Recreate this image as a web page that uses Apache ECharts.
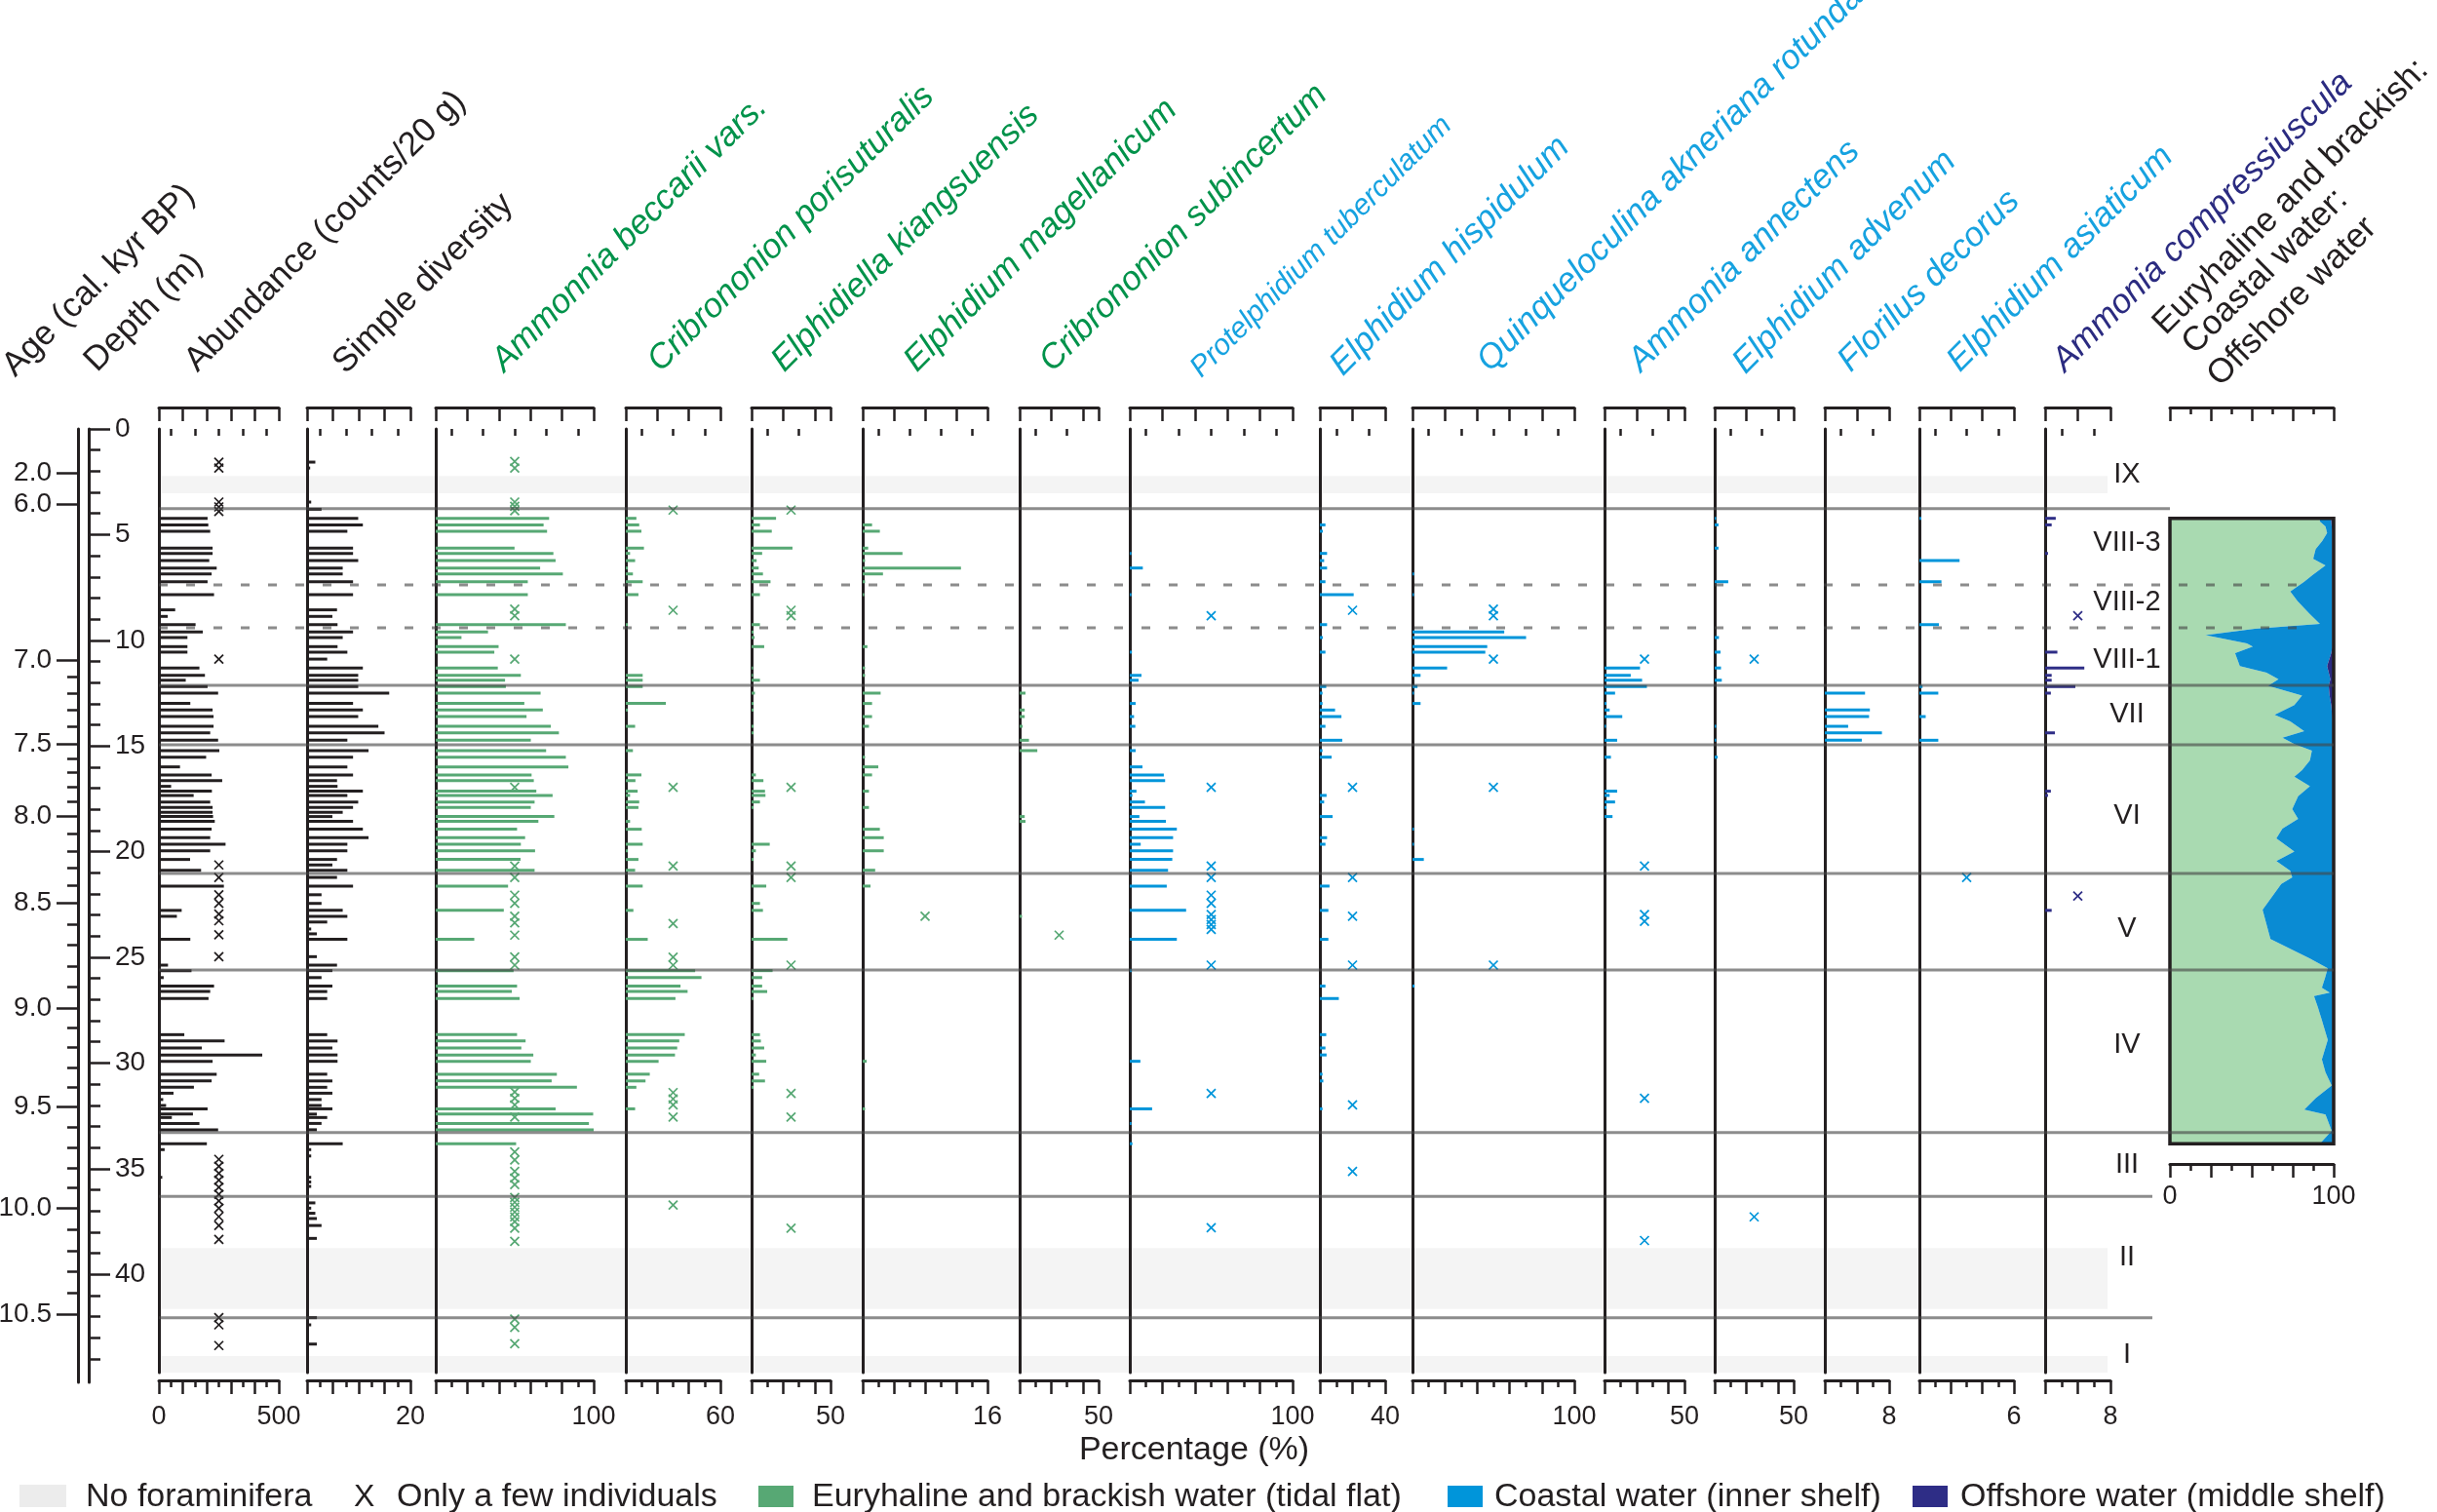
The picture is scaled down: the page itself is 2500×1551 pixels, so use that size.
<!DOCTYPE html>
<html><head><meta charset="utf-8">
<script src="https://cdn.jsdelivr.net/npm/echarts@6/dist/echarts.min.js"></script>
<style>html,body{margin:0;padding:0;background:#fff}#c{width:2500px;height:1551px}</style>
</head><body><div id="c"></div>
<script>
// ---------------- DATA (depth in m) ----------------
const abundance = [[4.23,203],[4.54,206],[4.84,214],[5.64,224],[5.89,224],[6.23,210],[6.58,241],[6.86,220],[7.23,203],[7.84,230],[8.56,68],[8.87,37],[9.26,153],[9.61,183],[9.87,119],[10.30,119],[10.56,119],[11.31,169],[11.66,192],[11.89,112],[12.19,203],[12.50,247],[12.99,131],[13.30,224],[13.61,228],[14.07,228],[14.38,214],[14.73,247],[15.22,252],[15.53,197],[15.99,88],[16.37,220],[16.64,264],[16.91,51],[17.14,221],[17.34,145],[17.65,214],[17.91,224],[18.14,224],[18.34,226],[18.57,233],[18.94,220],[19.34,214],[19.65,278],[19.96,214],[20.37,130],[20.88,176],[21.63,271],[22.78,95],[23.06,75],[24.15,131],[25.37,38],[25.63,136],[25.96,20],[26.36,230],[26.62,214],[26.95,207],[28.66,106],[28.96,274],[29.29,179],[29.62,431],[29.92,224],[30.53,241],[30.85,220],[31.15,146],[31.43,61],[31.73,18],[32.01,30],[32.17,203],[32.42,142],[32.58,54],[32.86,169],[33.16,247],[33.82,200],[34.10,24],[35.41,14]];
const abundanceFew = [1.57,1.85,3.46,3.69,3.9,10.89,20.63,21.22,22.04,22.45,22.95,23.27,23.93,24.97,34.56,34.89,35.22,35.55,35.88,36.21,36.53,36.87,37.27,37.69,38.35,42.05,42.39,43.37];
const diversity = [[1.57,1.6],[1.85,0.6],[3.46,0.8],[3.8,2.8],[4.23,9.9],[4.54,10.8],[4.84,7.8],[5.64,8.9],[5.89,8.9],[6.23,9.9],[6.58,6.9],[6.86,6.9],[7.23,8.9],[7.84,8.9],[8.56,5.8],[8.87,4.9],[9.26,5.9],[9.61,8.9],[9.87,6.9],[10.30,5.9],[10.56,7.8],[10.89,3.9],[11.31,10.8],[11.66,9.9],[11.89,9.9],[12.19,9.9],[12.50,15.9],[12.99,8.9],[13.30,10.8],[13.61,9.9],[14.07,13.8],[14.38,15.0],[14.73,7.8],[15.22,11.9],[15.53,8.9],[15.99,7.8],[16.37,8.9],[16.64,5.8],[16.91,5.9],[17.14,10.8],[17.34,7.8],[17.65,9.9],[17.91,8.9],[18.14,6.9],[18.34,4.9],[18.57,8.9],[18.94,10.8],[19.34,11.9],[19.65,7.8],[19.96,7.8],[20.37,5.8],[20.63,4.9],[20.88,7.8],[21.22,5.8],[21.63,8.9],[22.04,2.8],[22.45,2.8],[22.78,6.9],[23.06,7.8],[23.33,3.9],[23.66,0.8],[23.89,1.9],[24.15,7.8],[24.97,1.9],[25.37,5.8],[25.63,4.9],[25.96,2.8],[26.36,4.9],[26.62,3.9],[26.95,3.9],[28.66,3.9],[28.96,5.9],[29.29,4.9],[29.62,5.9],[29.92,5.9],[30.53,3.9],[30.85,4.9],[31.15,3.9],[31.43,4.9],[31.73,2.8],[32.01,2.8],[32.17,4.9],[32.42,1.9],[32.58,3.9],[32.86,2.8],[33.16,1.9],[33.82,6.9],[34.10,0.8],[34.40,0.8],[35.41,0.8],[35.63,0.8],[35.84,0.8],[36.62,1.6],[36.87,0.8],[37.11,1.6],[37.36,1.9],[37.69,2.8],[38.30,1.9],[42.05,1.9],[42.39,0.8],[43.30,1.9]];
const diversityFew = [];
const ammoniaBeccarii = [[4.23,71.8],[4.54,68.3],[4.84,70.5],[5.64,49.9],[5.89,74.5],[6.23,75.9],[6.58,66.1],[6.86,80.5],[7.23,58.3],[7.84,58.3],[9.26,82.4],[9.61,33.1],[9.87,16.3],[10.30,39.8],[10.56,37.1],[11.31,39.3],[11.66,53.9],[11.89,43.9],[12.19,44.4],[12.50,66.4],[12.99,56.1],[13.30,67.8],[13.61,57.5],[14.07,72.9],[14.38,78.0],[14.73,60.2],[15.22,69.9],[15.53,82.4],[15.99,84.0],[16.37,60.7],[16.64,62.1],[17.14,63.7],[17.34,74.0],[17.65,62.6],[17.91,60.2],[18.34,75.1],[18.57,65.0],[18.94,51.5],[19.34,56.6],[19.65,53.9],[19.96,62.9],[20.37,53.7],[20.88,62.6],[21.63,45.8],[22.78,43.1],[24.15,24.4],[25.63,49.3],[26.36,51.5],[26.62,48.2],[26.95,53.1],[28.66,51.5],[28.96,56.9],[29.29,54.2],[29.62,61.8],[29.92,60.2],[30.53,76.7],[30.85,73.4],[31.15,89.4],[32.17,75.9],[32.42,99.7],[32.86,97.0],[33.16,100],[33.82,50.9]];
const ammoniaBeccariiFew = [1.54,1.85,3.46,3.66,3.87,8.53,8.84,10.89,16.96,20.68,21.22,22.06,22.45,23.06,23.37,23.95,24.98,25.37,31.37,31.67,31.98,32.56,34.21,34.59,35.13,35.44,35.75,36.36,36.59,36.82,37.05,37.28,37.51,37.82,38.44,42.12,42.51,43.28];
const cribPorisuturalis = [[4.23,6.7],[4.54,8.5],[4.84,9.9],[5.64,11.5],[5.89,2.7],[6.23,5.9],[6.58,1.3],[6.86,4.5],[7.23,10.7],[7.84,8.0],[9.26,1.3],[11.66,10.7],[11.89,10.7],[12.19,10.7],[12.99,25.4],[13.30,1.3],[14.07,5.9],[15.22,4.5],[16.37,9.9],[16.64,6.1],[17.14,7.5],[17.34,2.7],[17.65,8.5],[17.91,8.0],[18.57,2.7],[18.94,10.1],[19.65,10.7],[19.96,1.3],[20.37,8.0],[20.88,5.9],[21.63,10.7],[22.78,4.8],[24.15,13.9],[25.63,44.0],[25.96,48.0],[26.36,34.7],[26.62,39.2],[26.95,31.5],[28.66,37.4],[28.96,33.9],[29.29,32.6],[29.62,31.2],[29.92,20.8],[30.53,15.2],[30.85,12.5],[31.15,6.7],[32.17,5.9]];
const cribPorisuturalisFew = [3.84,8.58,16.96,20.68,23.4,24.99,25.37,31.4,31.7,31.98,32.56,36.72];
const elphidiellaKiangsuensis = [[4.23,15.5],[4.54,5.3],[4.84,12.8],[5.64,25.9],[5.89,6.7],[6.23,3.2],[6.58,4.5],[6.86,7.2],[7.23,12.0],[7.84,5.3],[9.26,5.3],[9.61,1.3],[9.87,1.9],[10.30,8.0],[11.31,0.8],[11.66,0.8],[11.89,5.3],[12.50,2.1],[12.99,1.3],[13.30,1.3],[14.07,1.3],[14.38,1.3],[16.37,2.7],[16.64,7.5],[17.14,8.5],[17.34,8.8],[17.65,5.3],[17.91,1.3],[19.65,11.5],[19.96,2.7],[20.37,1.3],[21.63,9.3],[22.45,5.3],[22.78,7.2],[24.15,22.7],[25.63,13.3],[25.96,6.7],[26.36,6.7],[26.62,9.9],[26.95,1.3],[28.66,5.3],[28.96,5.9],[29.29,8.0],[29.62,2.7],[29.92,9.3],[30.53,4.8],[30.85,8.5],[31.15,1.3]];
const elphidiellaKiangsuensisFew = [3.84,8.58,8.84,16.96,20.68,21.22,25.37,31.44,32.56,37.82];
const elphidiumMagellanicum = [[4.54,1.2],[4.84,2.2],[5.64,0.7],[5.89,5.1],[6.23,0.3],[6.58,12.6],[6.86,2.6],[7.23,0.3],[7.84,0.2],[10.30,0.6],[11.31,0.3],[11.66,0.3],[12.50,2.3],[12.99,1.2],[13.61,1.2],[14.07,0.8],[15.53,0.3],[15.99,2.0],[16.37,1.2],[17.14,0.8],[17.91,0.8],[18.94,2.2],[19.34,2.7],[19.96,2.7],[20.88,1.6],[21.63,1.0],[29.92,0.5],[32.17,0.3]];
const elphidiumMagellanicumFew = [23.06];
const cribSubincertum = [[12.50,3.7],[13.30,3.2],[13.61,3.2],[14.07,1.9],[14.73,5.9],[15.22,11.2],[18.34,3.2],[18.57,3.7],[23.06,1.5]];
const cribSubincertumFew = [23.95];
const protelphidiumTuberculatum = [[5.89,1.0],[6.58,8.0],[7.84,1.0],[10.56,1.3],[11.66,7.2],[11.89,5.4],[12.99,3.6],[13.61,2.6],[14.07,3.4],[15.22,3.6],[15.99,7.8],[16.37,20.9],[16.64,21.7],[17.14,4.1],[17.34,1.6],[17.65,9.3],[17.91,21.7],[18.34,5.9],[18.57,22.2],[18.94,28.9],[19.34,26.6],[19.65,6.7],[19.96,26.6],[20.37,26.1],[20.88,23.5],[21.63,22.7],[22.78,34.6],[24.15,28.9],[25.63,1.3],[29.92,6.5],[32.17,13.7],[32.86,1.0],[33.82,1.6]];
const protelphidiumTuberculatumFew = [8.84,16.96,20.68,21.22,22.06,22.45,22.98,23.22,23.45,23.68,25.37,31.44,37.79];
const elphidiumHispidulum = [[4.54,3.4],[4.84,1.8],[5.89,4.4],[6.23,2.6],[6.58,4.4],[7.23,3.4],[7.84,20.7],[9.26,4.4],[9.87,1.8],[10.56,3.4],[12.19,3.9],[12.50,1.6],[12.99,1.6],[13.30,9.3],[13.61,13.2],[14.07,3.4],[14.73,13.7],[15.22,1.6],[15.53,7.2],[17.34,4.1],[17.65,2.6],[18.34,7.8],[19.34,4.4],[19.65,3.4],[21.63,5.9],[22.78,5.2],[24.15,5.2],[26.36,3.4],[26.95,11.6],[28.66,3.9],[29.29,3.4],[29.62,4.1],[30.53,1.6],[30.85,2.1],[32.17,1.6]];
const elphidiumHispidulumFew = [8.58,16.96,21.22,23.06,25.37,31.98,35.13];
const quinqueloculinaAkneriana = [[6.86,1.0],[7.84,0.8],[9.61,56.7],[9.87,70.2],[10.30,46.2],[10.56,45.0],[11.31,21.4],[11.66,5.0],[12.19,3.1],[12.50,0.8],[12.99,5.0],[18.94,0.8],[19.65,0.8],[20.37,7.0],[26.36,1.3]];
const quinqueloculinaAknerianaFew = [8.53,8.84,10.89,16.96,25.37];
const ammoniaAnnectens = [[11.31,22.2],[11.66,16.4],[11.89,23.5],[12.19,26.5],[12.50,6.6],[12.99,1.3],[13.30,3.2],[13.61,11.1],[14.07,0.5],[14.73,7.9],[15.53,4.0],[17.14,7.9],[17.34,3.2],[17.65,6.6],[17.91,1.3],[18.34,5.0]];
const ammoniaAnnectensFew = [10.89,20.68,22.98,23.3,31.67,38.4];
const elphidiumAdvenum = [[4.23,0.5],[4.54,2.4],[5.64,2.4],[7.23,8.6],[9.87,2.7],[10.56,3.7],[11.31,4.0],[11.89,4.5],[14.07,0.5],[14.73,0.5],[15.53,1.9]];
const elphidiumAdvenumFew = [10.89,37.28];
const floriliusDecorus = [[12.50,5.0],[13.30,5.6],[13.61,5.5],[14.07,2.9],[14.38,7.1],[14.73,4.6]];
const floriliusDecorusFew = [];
const elphidiumAsiaticum = [[4.23,0.12],[6.23,2.55],[7.23,1.4],[9.26,1.24],[12.19,0.2],[12.50,1.2],[13.61,0.4],[14.73,1.2]];
const elphidiumAsiaticumFew = [21.22];
const ammoniaCompressiuscula = [[4.23,1.3],[4.54,0.8],[5.89,0.35],[10.56,1.5],[11.31,4.8],[11.66,0.8],[11.89,0.8],[12.19,3.7],[12.50,0.7],[14.38,1.2],[17.14,0.7],[17.34,0.35],[22.78,0.8]];
const ammoniaCompressiusculaFew = [8.84,22.1];

// Cumulative environment groups (%)
const envDepth    = [4.23,4.38,4.61,4.92,5.30,5.69,6.15,6.46,6.92,7.23,7.69,8.15,8.76,9.23,9.46,9.76,10.15,10.30,10.61,11.22,11.53,11.84,12.15,12.61,13.07,13.53,13.84,14.30,14.61,14.91,15.22,15.68,16.14,16.45,16.91,17.38,17.99,18.45,18.91,19.37,19.99,20.45,20.91,21.22,21.53,22.75,24.14,25.06,25.52,25.98,26.44,26.67,26.83,27.37,27.98,28.91,29.83,30.44,31.06,31.67,32.21,32.44,33.21,33.82];
const envEuryhaline = [91.6,91.6,95,96,93,89,87.5,95,87,82,73.5,78,85.5,91.6,51.8,21.7,47,50.6,39.8,42.7,59,66.3,60,80.7,76,63.9,73.5,82,68.7,76,86.7,85.5,80.7,76,85.5,78.3,74.7,78.3,68.7,65,76,65,73.5,74.7,68,56.6,61.4,85.5,96.4,94.7,92.8,97.6,88,90.4,92.8,96.4,92.8,95,98.8,89,82,95,98.8,91.6];
const envCoastal    = [6.9,6.9,3.8,3.2,6.2,10.2,11.7,4.2,12.2,17.2,25.7,21.2,13.7,7.6,47.4,77.5,52.2,48.6,58.7,53.3,38,31.7,37,16.8,22.5,35.1,25.8,17.3,30.6,23.3,12.6,13.8,18.6,23.3,13.8,21.0,24.6,21.0,30.6,34.3,23.3,34.3,25.8,24.6,31.3,42.4,37.6,13.8,2.9,4.6,6.5,1.7,11.3,8.9,6.5,2.9,6.5,4.3,0.5,10.3,17.3,4.3,0.5,7.7];
const envOffshore   = [1.5,1.5,1.2,0.8,0.8,0.8,0.8,0.8,0.8,0.8,0.8,0.8,0.8,0.8,0.8,0.8,0.8,0.8,1.5,4,3,2,3,2.5,1.5,1,0.7,0.7,0.7,0.7,0.7,0.7,0.7,0.7,0.7,0.7,0.7,0.7,0.7,0.7,0.7,0.7,0.7,0.7,0.7,1.0,1.0,0.7,0.7,0.7,0.7,0.7,0.7,0.7,0.7,0.7,0.7,0.7,0.7,0.7,0.7,0.7,0.7,0.7];

// Zones and age model
const zoneBoundaryDepths = [3.77,7.38,9.41,12.13,14.94,21.03,25.60,33.29,36.31,42.05];
const zoneNames = ['IX','VIII-3','VIII-2','VIII-1','VII','VI','V','IV','III','II','I'];
const zoneLabelDepths = [2.15,5.38,8.23,10.92,13.53,18.3,23.68,29.14,34.83,39.2,43.8];
const noForamIntervals = [[2.23,3.04],[38.76,41.64],[43.87,44.65]];
const ageLabels = ['2.0','6.0','7.0','7.5','8.0','8.5','9.0','9.5','10.0','10.5'];
const ageLabelDepths = [2.08,3.55,10.93,14.9,18.31,22.45,27.39,32.09,36.87,41.89];
const ageMinorDepths = [11.72,12.52,13.31,14.1,15.58,16.26,16.95,17.63,19.14,19.97,20.79,21.62,23.44,24.43,25.41,26.4,28.33,29.27,30.21,31.15,33.05,34.0,34.96,35.91,37.87,38.88,39.88,40.89];
const depthLabels = [0,5,10,15,20,25,30,35,40];

// ---------------- LAYOUT / STYLE ----------------
const FONT = '"Liberation Sans", Arial, sans-serif';
const INK = '#231F20';
const GREEN_BAR = '#57A874', BLUE_BAR = '#0095DA', NAVY_BAR = '#2E2D86';
const GREEN_TXT = '#00924A', BLUE_TXT = '#16A2E0', NAVY_TXT = '#2B2B80';
const TOP = 440, PANEL_BOTTOM = 1408, PX_PER_M = 21.68;
const DEPTH_MAX = (PANEL_BOTTOM - TOP) / PX_PER_M;
const AXIS_TOP_Y = 418, AXIS_BOTTOM_Y = 1416;

const panels = [
  {data: abundance, few: abundanceFew, left:163, right:286, max:500, step:50, color:INK, labels:[0,500]},
  {data: diversity, few: diversityFew, left:315, right:421, max:20, step:2.5, color:INK, labels:[20]},
  {data: ammoniaBeccarii, few: ammoniaBeccariiFew, left:447, right:609, max:100, step:10, color:GREEN_BAR, labels:[100]},
  {data: cribPorisuturalis, few: cribPorisuturalisFew, left:642, right:739, max:60, step:10, color:GREEN_BAR, labels:[60]},
  {data: elphidiellaKiangsuensis, few: elphidiellaKiangsuensisFew, left:771, right:852, max:50, step:10, color:GREEN_BAR, labels:[50]},
  {data: elphidiumMagellanicum, few: elphidiumMagellanicumFew, left:885, right:1013, max:16, step:2, color:GREEN_BAR, labels:[16]},
  {data: cribSubincertum, few: cribSubincertumFew, left:1046, right:1127, max:50, step:10, color:GREEN_BAR, labels:[50]},
  {data: protelphidiumTuberculatum, few: protelphidiumTuberculatumFew, left:1159, right:1326, max:100, step:10, color:BLUE_BAR, labels:[100]},
  {data: elphidiumHispidulum, few: elphidiumHispidulumFew, left:1354, right:1421, max:40, step:10, color:BLUE_BAR, labels:[40]},
  {data: quinqueloculinaAkneriana, few: quinqueloculinaAknerianaFew, left:1449, right:1615, max:100, step:10, color:BLUE_BAR, labels:[100]},
  {data: ammoniaAnnectens, few: ammoniaAnnectensFew, left:1646, right:1728, max:50, step:10, color:BLUE_BAR, labels:[50]},
  {data: elphidiumAdvenum, few: elphidiumAdvenumFew, left:1759, right:1840, max:50, step:10, color:BLUE_BAR, labels:[50]},
  {data: floriliusDecorus, few: floriliusDecorusFew, left:1872, right:1938, max:8, step:2, color:BLUE_BAR, labels:[8]},
  {data: elphidiumAsiaticum, few: elphidiumAsiaticumFew, left:1969, right:2066, max:6, step:1, color:BLUE_BAR, labels:[6]},
  {data: ammoniaCompressiuscula, few: ammoniaCompressiusculaFew, left:2098, right:2165, max:8, step:2, color:NAVY_BAR, labels:[8]}
];
const areaPanel = {left:2226, right:2394, max:100, step:12.5, bottomAxisY:1194};

const titles = [
  {t:'Age (cal. kyr BP)', x:16, y:388, c:INK},
  {t:'Depth (m)', x:100, y:383, c:INK},
  {t:'Abundance (counts/20 g)', x:203, y:383, c:INK},
  {t:'Simple diversity', x:355, y:385, c:INK},
  {t:'Ammonnia beccarii vars.', x:518, y:383, c:GREEN_TXT, it:1},
  {t:'Cribrononion porisuturalis', x:678, y:383, c:GREEN_TXT, it:1},
  {t:'Elphidiella kiangsuensis', x:805, y:383, c:GREEN_TXT, it:1},
  {t:'Elphidium magellanicum', x:941, y:383, c:GREEN_TXT, it:1},
  {t:'Cribrononion subincertum', x:1080, y:383, c:GREEN_TXT, it:1},
  {t:'Protelphidium tuberculatum', x:1232, y:388, c:BLUE_TXT, it:1, s:30},
  {t:'Elphidium hispidulum', x:1378, y:387, c:BLUE_TXT, it:1},
  {t:'Quinqueloculina akneriana rotunda', x:1529, y:383, c:BLUE_TXT, it:1},
  {t:'Ammonia annectens', x:1684, y:383, c:BLUE_TXT, it:1},
  {t:'Elphidium advenum', x:1791, y:385, c:BLUE_TXT, it:1},
  {t:'Florilus decorus', x:1899, y:383, c:BLUE_TXT, it:1},
  {t:'Elphidium asiaticum', x:2011, y:383, c:BLUE_TXT, it:1},
  {t:'Ammonia compressiuscula', x:2119, y:383, c:NAVY_TXT, it:1},
  {t:'Euryhaline and brackish:', x:2222, y:345, c:INK},
  {t:'Coastal water:', x:2252, y:365, c:INK},
  {t:'Offshore water', x:2278, y:398, c:INK}
];
const zoneLineStyle = [
  {x0:163,x1:2226,dash:false},{x0:163,x1:2372,dash:true},{x0:163,x1:2372,dash:true},
  {x0:163,x1:2394,dash:false},{x0:163,x1:2394,dash:false},{x0:163,x1:2394,dash:false},
  {x0:163,x1:2394,dash:false},{x0:163,x1:2394,dash:false},{x0:163,x1:2208,dash:false},{x0:163,x1:2208,dash:false}
];

// ---------------- BUILD ----------------
const grids = [], xAxes = [], yAxes = [], series = [];
function tickSets(max, step){
  const majors = [], minors = [];
  const n = Math.round(max / step);
  for (let k = 0; k <= n; k++) {
    const v = +(k * step).toFixed(4);
    if (k % 2 === 0 || k === n) majors.push(v); else minors.push(v);
  }
  return {majors, minors};
}
function addXAxes(gi, max, step, topOffset, bottomOffset, labels, labelMargin){
  const {majors, minors} = tickSets(max, step);
  const base = {gridIndex:gi, type:'value', min:0, max:max, splitLine:{show:false}, silent:true, z:3};
  const line = {show:true, onZero:false, lineStyle:{color:INK, width:3}};
  const tk = (len, vals, inside) => ({show:true, inside:inside, length:len, lineStyle:{color:INK, width:2.5}, customValues:vals});
  const first = xAxes.length;
  xAxes.push(Object.assign({}, base, {position:'top', offset:topOffset, axisLine:line, axisTick:tk(14, majors, true), axisLabel:{show:false}}));
  xAxes.push(Object.assign({}, base, {position:'top', offset:topOffset, axisLine:{show:false}, axisTick:tk(7, minors, true), axisLabel:{show:false}}));
  xAxes.push(Object.assign({}, base, {position:'bottom', offset:bottomOffset, axisLine:line, axisTick:tk(14, majors, false),
    axisLabel:{show:true, customValues:labels, margin:labelMargin, fontSize:27, fontFamily:FONT, color:INK, showMinLabel:true, showMaxLabel:true, hideOverlap:false}}));
  xAxes.push(Object.assign({}, base, {position:'bottom', offset:bottomOffset, axisLine:{show:false}, axisTick:tk(7, minors, false), axisLabel:{show:false}}));
  return first;
}

panels.forEach(p => {
  const gi = grids.length;
  grids.push({left:p.left, top:TOP, width:p.right - p.left, height:PANEL_BOTTOM - TOP, outerBoundsMode:'none', containLabel:false});
  const xi = addXAxes(gi, p.max, p.step, TOP - AXIS_TOP_Y, AXIS_BOTTOM_Y - PANEL_BOTTOM, p.labels, 24);
  const yi = yAxes.length;
  yAxes.push({gridIndex:gi, type:'value', inverse:true, min:0, max:DEPTH_MAX, z:3,
    axisLine:{show:true, onZero:false, lineStyle:{color:INK, width:3}}, axisTick:{show:false}, axisLabel:{show:false}, splitLine:{show:false}});
  series.push({type:'custom', coordinateSystem:'cartesian2d', xAxisIndex:xi, yAxisIndex:yi, z:4, silent:true,
    data:p.data, encode:{x:1, y:0},
    renderItem:(params, api) => {
      const d = api.value(0), v = api.value(1);
      const a = api.coord([0, d]), b = api.coord([v, d]);
      return {type:'rect', shape:{x:a[0], y:a[1] - 1.5, width:Math.max(b[0] - a[0], 1.5), height:3}, style:{fill:p.color}};
    }});
  const mid = p.max / 2;
  series.push({type:'custom', coordinateSystem:'cartesian2d', xAxisIndex:xi, yAxisIndex:yi, z:5, silent:true,
    data:p.few.map(d => [d, mid]), encode:{x:1, y:0},
    renderItem:(params, api) => {
      const c = api.coord([api.value(1), api.value(0)]), s = 4.5;
      return {type:'group', children:[
        {type:'line', shape:{x1:c[0]-s, y1:c[1]-s, x2:c[0]+s, y2:c[1]+s}, style:{stroke:p.color, lineWidth:1.7}},
        {type:'line', shape:{x1:c[0]-s, y1:c[1]+s, x2:c[0]+s, y2:c[1]-s}, style:{stroke:p.color, lineWidth:1.7}}
      ]};
    }});
});

// Area (cumulative) panel
{
  const gi = grids.length;
  const d0 = envDepth[0], d1 = envDepth[envDepth.length - 1];
  const gTop = TOP + d0 * PX_PER_M, gH = (d1 - d0) * PX_PER_M;
  grids.push({left:areaPanel.left, top:gTop, width:areaPanel.right - areaPanel.left, height:gH, outerBoundsMode:'none', containLabel:false});
  const xi = addXAxes(gi, areaPanel.max, areaPanel.step, gTop - AXIS_TOP_Y, areaPanel.bottomAxisY - (gTop + gH), [0, 100], 20);
  const yi = yAxes.length;
  yAxes.push({gridIndex:gi, type:'value', inverse:true, min:d0, max:d1, show:false});
  series.push({type:'custom', coordinateSystem:'cartesian2d', xAxisIndex:xi, yAxisIndex:yi, z:2, silent:true,
    data:[[d0, 0]], encode:{x:1, y:0},
    renderItem:(params, api) => {
      const n = envDepth.length;
      const b1 = envEuryhaline.slice(), b2 = envEuryhaline.map((e, i) => e + envCoastal[i]);
      const green = [api.coord([0, envDepth[0]]), api.coord([0, envDepth[n-1]])];
      for (let i = n - 1; i >= 0; i--) green.push(api.coord([b1[i], envDepth[i]]));
      const blue = [];
      for (let i = 0; i < n; i++) blue.push(api.coord([b1[i], envDepth[i]]));
      for (let i = n - 1; i >= 0; i--) blue.push(api.coord([b2[i], envDepth[i]]));
      const navy = [];
      for (let i = 0; i < n; i++) navy.push(api.coord([b2[i], envDepth[i]]));
      for (let i = n - 1; i >= 0; i--) navy.push(api.coord([b2[i] + envOffshore[i], envDepth[i]]));
      const tl = api.coord([0, envDepth[0]]), br = api.coord([100, envDepth[n-1]]);
      return {type:'group', children:[
        {type:'polygon', shape:{points:green}, style:{fill:'#A9DAB1'}},
        {type:'polygon', shape:{points:blue}, style:{fill:'#0A8BD3'}},
        {type:'polygon', shape:{points:navy}, style:{fill:'#2B2A82'}},
        {type:'rect', z2:10, shape:{x:tl[0], y:tl[1], width:br[0]-tl[0], height:br[1]-tl[1]}, style:{fill:'none', stroke:INK, lineWidth:3.5}}
      ]};
    }});
}

// Overlay grid (pixel x, depth y) for zones, bands and labels
{
  const gi = grids.length;
  grids.push({left:0, top:TOP, width:2500, height:PANEL_BOTTOM - TOP, outerBoundsMode:'none', containLabel:false});
  const xi = xAxes.length;
  xAxes.push({gridIndex:gi, type:'value', min:0, max:2500, show:false});
  const yi = yAxes.length;
  yAxes.push({gridIndex:gi, type:'value', inverse:true, min:0, max:DEPTH_MAX, show:false});
  series.push({type:'custom', coordinateSystem:'cartesian2d', xAxisIndex:xi, yAxisIndex:yi, z:1, silent:true,
    data:noForamIntervals, encode:{x:[], y:[0,1]},
    renderItem:(params, api) => {
      const a = api.coord([163, api.value(0)]), b = api.coord([2162, api.value(1)]);
      return {type:'rect', shape:{x:a[0], y:a[1], width:b[0]-a[0], height:b[1]-a[1]}, style:{fill:'#F4F4F4'}};
    }});
  series.push({type:'custom', coordinateSystem:'cartesian2d', xAxisIndex:xi, yAxisIndex:yi, z:8, silent:true,
    data:zoneBoundaryDepths.map(d => [0, d]), encode:{x:0, y:1},
    renderItem:(params, api) => {
      const st = zoneLineStyle[params.dataIndex], d = api.value(1);
      const a = api.coord([st.x0, d]), b = api.coord([st.x1, d]);
      return {type:'line', shape:{x1:a[0], y1:a[1], x2:b[0], y2:b[1]},
        style:{stroke:'rgba(70,70,70,0.62)', lineWidth:3, lineDash: st.dash ? [9, 19] : null}};
    }});
  series.push({type:'custom', coordinateSystem:'cartesian2d', xAxisIndex:xi, yAxisIndex:yi, z:8, silent:true,
    data:zoneLabelDepths.map(d => [0, d]), encode:{x:0, y:1},
    renderItem:(params, api) => {
      const c = api.coord([2182, api.value(1)]);
      return {type:'text', x:c[0], y:c[1], style:{text:zoneNames[params.dataIndex], fill:INK, font:'29px ' + FONT, align:'center', verticalAlign:'middle', textAlign:'center', textVerticalAlign:'middle'}};
    }});
}

// Age / depth axes
{
  const gi = grids.length;
  const h = AXIS_BOTTOM_Y + 2 - TOP;
  grids.push({left:91, top:TOP, width:1, height:h, outerBoundsMode:'none', containLabel:false});
  xAxes.push({gridIndex:gi, type:'value', min:0, max:1, show:false});
  const ymax = h / PX_PER_M;
  const depthMinor = []; for (let k = 0; k <= 44; k++) depthMinor.push(k);
  const base = {gridIndex:gi, type:'value', inverse:true, min:0, max:ymax, position:'left', splitLine:{show:false}, z:3};
  yAxes.push(Object.assign({}, base, {offset:0, axisLine:{show:true, onZero:false, lineStyle:{color:INK, width:3}},
    axisTick:{show:true, inside:true, length:12, lineStyle:{color:INK, width:2.5}, customValues:depthMinor}, axisLabel:{show:false}}));
  yAxes.push(Object.assign({}, base, {offset:0, axisLine:{show:false},
    axisTick:{show:true, inside:true, length:22, lineStyle:{color:INK, width:2.5}, customValues:depthLabels},
    axisLabel:{show:true, inside:true, margin:27, customValues:depthLabels, fontSize:28, fontFamily:FONT, color:INK, showMinLabel:true, showMaxLabel:true}}));
  yAxes.push(Object.assign({}, base, {offset:11, axisLine:{show:true, onZero:false, lineStyle:{color:INK, width:3}},
    axisTick:{show:true, inside:false, length:22, lineStyle:{color:INK, width:2.5}, customValues:ageLabelDepths},
    axisLabel:{show:true, margin:27, customValues:ageLabelDepths, fontSize:28, fontFamily:FONT, color:INK, showMinLabel:true, showMaxLabel:true,
      formatter:(v) => { let bi = 0, bd = 1e9; ageLabelDepths.forEach((d, i) => { if (Math.abs(d - v) < bd) { bd = Math.abs(d - v); bi = i; } }); return ageLabels[bi]; }}}));
  yAxes.push(Object.assign({}, base, {offset:11, axisLine:{show:false},
    axisTick:{show:true, inside:false, length:11, lineStyle:{color:INK, width:2.5}, customValues:ageMinorDepths}, axisLabel:{show:false}}));
}

// Graphic texts: titles, legend, axis name
const graphics = [];
titles.forEach(t => {
  const size = t.s || 35;
  graphics.push({type:'text', x:t.x + 5, y:t.y + 5, rotation:Math.PI / 4, silent:true,
    style:{text:t.t, fill:t.c, font:(t.it ? 'italic ' : '') + size + 'px ' + FONT, textAlign:'left', textVerticalAlign:'bottom', align:'left', verticalAlign:'bottom'}});
});
graphics.push({type:'text', x:1225, y:1488, silent:true, style:{text:'Percentage (%)', fill:INK, font:'34px ' + FONT, textAlign:'center', textVerticalAlign:'middle', align:'center', verticalAlign:'middle'}});
const legendItems = [
  {box:[20,1523,48,23], fill:'#ECECEC', tx:88, text:'No foraminifera'},
  {mark:true, mx:363, tx:407, text:'Only a few individuals'},
  {box:[778,1524,36,22], fill:'#57A874', tx:833, text:'Euryhaline and brackish water (tidal flat)'},
  {box:[1485,1524,36,22], fill:'#0095DA', tx:1533, text:'Coastal water (inner shelf)'},
  {box:[1962,1524,36,22], fill:'#2E2D86', tx:2011, text:'Offshore water (middle shelf)'}
];
legendItems.forEach(it => {
  if (it.box) graphics.push({type:'rect', silent:true, shape:{x:it.box[0], y:it.box[1], width:it.box[2], height:it.box[3]}, style:{fill:it.fill}});
  if (it.mark) graphics.push({type:'text', x:it.mx, y:1536, silent:true, style:{text:'X', fill:INK, font:'32px ' + FONT, textAlign:'left', textVerticalAlign:'middle', align:'left', verticalAlign:'middle'}});
  graphics.push({type:'text', x:it.tx, y:1536, silent:true, style:{text:it.text, fill:INK, font:'34px ' + FONT, textAlign:'left', textVerticalAlign:'middle', align:'left', verticalAlign:'middle'}});
});

const chart = echarts.init(document.getElementById('c'), null, {renderer:'canvas', width:2500, height:1551});
chart.setOption({
  animation:false,
  backgroundColor:'#ffffff',
  textStyle:{fontFamily:FONT},
  grid:grids, xAxis:xAxes, yAxis:yAxes, series:series, graphic:graphics
});
</script></body></html>
